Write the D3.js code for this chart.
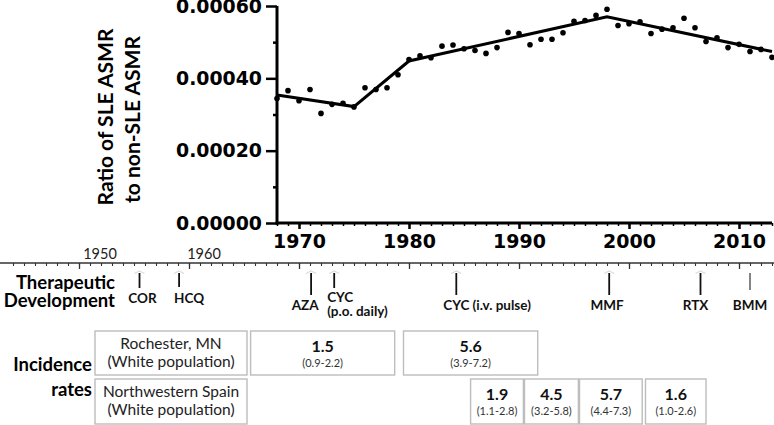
<!DOCTYPE html>
<html>
<head>
<meta charset="utf-8">
<script src="https://cdn.jsdelivr.net/npm/d3@7"></script>
<style>
  body { margin: 0; background: #fff; }
  svg { display: block; }
</style>
</head>
<body>
<script>
// ---------------- DATA ----------------
const years = [1968,1969,1970,1971,1972,1973,1974,1975,1976,1977,1978,1979,1980,1981,1982,1983,1984,1985,1986,1987,1988,1989,1990,1991,1992,1993,1994,1995,1996,1997,1998,1999,2000,2001,2002,2003,2004,2005,2006,2007,2008,2009,2010,2011,2012,2013];
const ratio = [0.000344,0.000366,0.000338,0.000369,0.000303,0.000328,0.000331,0.000321,0.000374,0.000369,0.000374,0.000410,0.000452,0.000462,0.000457,0.000489,0.000492,0.000482,0.000477,0.000469,0.000485,0.000527,0.000524,0.000493,0.000508,0.000508,0.000526,0.000558,0.000560,0.000574,0.000591,0.000546,0.000551,0.000556,0.000524,0.000536,0.000540,0.000566,0.000540,0.000502,0.000512,0.000485,0.000494,0.000474,0.000480,0.000458];
const trendYears = [1968, 1975, 1980, 1998, 2013];
const trendValues = [0.000354, 0.000322, 0.000448, 0.000570, 0.000474];
const yTicks = [0, 0.0002, 0.0004, 0.0006];
const yMinorTicks = [0.0001, 0.0003, 0.0005];
const xTicks = [1970, 1980, 1990, 2000, 2010];
const timelineLabels = [1950, 1960];

const drugs = ["COR", "HCQ", "AZA", "CYC", "CYC (i.v. pulse)", "MMF", "RTX", "BMM"];
const drugSub = ["", "", "", "(p.o. daily)", "", "", "", ""];
const drugYears = [1955.5, 1959.1, 1971.1, 1973.2, 1984.3, 1998.2, 2006.5, 2011.0];

const populations = ["Rochester, MN", "Northwestern Spain"];
const populationSub = ["(White population)", "(White population)"];

const rochesterRates = ["1.5", "5.6"];
const rochesterCI = ["(0.9-2.2)", "(3.9-7.2)"];
const rochesterStart = [1965.6, 1979.5];
const rochesterEnd = [1978.7, 1991.7];

const spainRates = ["1.9", "4.5", "5.7", "1.6"];
const spainCI = ["(1.1-2.8)", "(3.2-5.8)", "(4.4-7.3)", "(1.0-2.6)"];
const spainStart = [1985.6, 1990.5, 1995.5, 2001.5];
const spainEnd = [1990.4, 1995.4, 2001.2, 2007.0];

// ---------------- LAYOUT ----------------
const W = 774, H = 425;
const svg = d3.select("body").append("svg").attr("width", W).attr("height", H);

const x = d3.scaleLinear().domain([1968, 2013]).range([277, 772]);
const y = d3.scaleLinear().domain([0, 0.0006]).range([223, 6]);

const boldNum = "'DejaVu Sans', sans-serif";
const humanist = "Lato, 'Open Sans', sans-serif";

// Y axis (minor)
svg.append("g").attr("transform", `translate(${x(1968)},0)`)
  .call(d3.axisLeft(y).tickValues(yMinorTicks).tickSize(4).tickFormat(""))
  .call(g => g.select(".domain").remove())
  .call(g => g.selectAll("line").attr("stroke-width", 2.5));
// Y axis (major)
svg.append("g").attr("transform", `translate(${x(1968)},0)`)
  .call(d3.axisLeft(y).tickValues(yTicks).tickSize(11).tickPadding(4).tickFormat(d3.format(".5f")))
  .call(g => g.select(".domain").attr("stroke-width", 3).attr("d", `M0,${y(0.0006)}V${y(0)+1.5}`))
  .call(g => g.selectAll("line").attr("stroke-width", 2.5))
  .call(g => g.selectAll("text").attr("font-family", boldNum).attr("font-weight", "bold")
      .attr("font-size", 19).attr("fill", "#000").attr("textLength", 86).attr("lengthAdjust", "spacingAndGlyphs"));

// X axis (minor)
svg.append("g").attr("transform", `translate(0,${y(0)})`)
  .call(d3.axisBottom(x).tickValues(years).tickSize(3).tickFormat(""))
  .call(g => g.select(".domain").remove())
  .call(g => g.selectAll("line").attr("stroke-width", 1.5));
// X axis (major)
svg.append("g").attr("transform", `translate(0,${y(0)})`)
  .call(d3.axisBottom(x).tickValues(xTicks).tickSize(6).tickPadding(5.5).tickFormat(d3.format("d")))
  .call(g => g.select(".domain").attr("stroke-width", 3).attr("d", `M${x(1968)-1.5},0H${x(2013)}`))
  .call(g => g.selectAll("line").attr("stroke-width", 2.5))
  .call(g => g.selectAll("text").attr("font-family", boldNum).attr("font-weight", "bold")
      .attr("font-size", 19).attr("fill", "#000"));

// Y title
const yTitle = svg.append("g").attr("font-family", humanist).attr("font-weight", "bold")
  .attr("font-size", 21).attr("fill", "#000").attr("text-anchor", "middle");
yTitle.append("text").attr("transform", "translate(113,117) rotate(-90)").text("Ratio of SLE ASMR");
yTitle.append("text").attr("transform", "translate(140,119.5) rotate(-90)").text("to non-SLE ASMR");

// Trend line
const trend = trendYears.map((d, i) => [d, trendValues[i]]);
svg.append("path").datum(trend)
  .attr("d", d3.line().x(d => x(d[0])).y(d => y(d[1])))
  .attr("fill", "none").attr("stroke", "#000").attr("stroke-width", 3).attr("stroke-linejoin", "miter");

// Points
svg.append("g").selectAll("circle").data(years.map((d, i) => [d, ratio[i]])).join("circle")
  .attr("cx", d => x(d[0])).attr("cy", d => y(d[1])).attr("r", 2.8).attr("fill", "#000");

// ---------------- TIMELINE ----------------
const tlY = 263;
svg.append("line").attr("x1", 0).attr("x2", W).attr("y1", tlY).attr("y2", tlY)
  .attr("stroke", "#333").attr("stroke-width", 1.3);
const tlYears = d3.range(1944, 2014);
svg.append("g").attr("transform", `translate(0,${tlY})`)
  .call(d3.axisBottom(x).tickValues(tlYears).tickSize(3).tickFormat(""))
  .call(g => g.select(".domain").remove())
  .call(g => g.selectAll("line").attr("stroke", "#333").attr("stroke-width", 1.1));
svg.append("g").attr("transform", `translate(0,${tlY})`)
  .call(d3.axisBottom(x).tickValues(timelineLabels.concat(xTicks)).tickSize(6).tickFormat(""))
  .call(g => g.select(".domain").remove())
  .call(g => g.selectAll("line").attr("stroke", "#333").attr("stroke-width", 1.3));
svg.append("g").selectAll("text").data(timelineLabels).join("text")
  .attr("x", d => x(d) + (d === 1950 ? 21 : 15)).attr("y", 259)
  .attr("text-anchor", "middle").attr("font-family", humanist).attr("font-size", 14.5).attr("fill", "#222")
  .text(d => d);

// Row labels
const rowLab = svg.append("g").attr("font-family", humanist).attr("font-weight", "bold")
  .attr("font-size", 18.5).attr("fill", "#000").attr("text-anchor", "end");
rowLab.append("text").attr("x", 115).attr("y", 289).text("Therapeutic");
rowLab.append("text").attr("x", 115).attr("y", 307).text("Development");
rowLab.append("text").attr("x", 92).attr("y", 371).text("Incidence");
rowLab.append("text").attr("x", 92).attr("y", 396).text("rates");

// Drug markers (label offset, anchor, line bottom, label baseline)
const nudge = {
  "COR": [3, "middle", 288, 303], "HCQ": [10, "middle", 287, 303], "AZA": [-6, "middle", 295, 310],
  "CYC": [-7, "start", 288, 302], "CYC (i.v. pulse)": [-13, "start", 295, 310],
  "MMF": [-2, "middle", 295, 310], "RTX": [-5, "middle", 295, 310], "BMM": [0, "middle", 290, 310] };
const drugG = svg.append("g");
drugs.forEach((name, i) => {
  const cx = x(drugYears[i]);
  const isLast = name === "BMM";
  const [dx, anchor, lineEnd, base] = nudge[name];
  if (!isLast) {
    drugG.append("path").attr("d", `M${cx-5},${273.5}L${cx},${271}L${cx+5},${273.5}`)
      .attr("fill", "none").attr("stroke", "#dcdcdc").attr("stroke-width", 1.3);
  }
  drugG.append("line").attr("x1", cx).attr("x2", cx).attr("y1", 273).attr("y2", lineEnd)
    .attr("stroke", isLast ? "#777" : "#111").attr("stroke-width", 1.8);
  drugG.append("text").attr("x", cx + dx).attr("y", base).attr("text-anchor", anchor)
    .attr("font-family", humanist).attr("font-weight", "bold").attr("font-size", 13.5).attr("fill", "#111")
    .text(name);
  if (drugSub[i]) {
    drugG.append("text").attr("x", cx + dx).attr("y", 316).attr("text-anchor", anchor)
      .attr("font-family", humanist).attr("font-weight", "bold").attr("font-size", 13.5).attr("fill", "#111")
      .text(drugSub[i]);
  }
});

// ---------------- INCIDENCE BOXES ----------------
const boxStroke = "#bdbdbd";
const rows = [{ top: 331, bot: 375 }, { top: 379, bot: 424 }];
populations.forEach((p, i) => {
  const r = rows[i];
  svg.append("rect").attr("x", 95).attr("y", r.top).attr("width", 152).attr("height", r.bot - r.top)
    .attr("fill", "#fff").attr("stroke", boxStroke).attr("stroke-width", 1.4);
  svg.append("text").attr("x", 171).attr("y", r.top + 18).attr("text-anchor", "middle")
    .attr("font-family", humanist).attr("font-size", 15.5).attr("fill", "#222").text(p);
  svg.append("text").attr("x", 171).attr("y", r.top + 36).attr("text-anchor", "middle")
    .attr("font-family", humanist).attr("font-size", 15.5).attr("fill", "#222").text(populationSub[i]);
});

function rateBoxes(rates, cis, starts, ends, r) {
  const g = svg.append("g");
  rates.forEach((rate, i) => {
    const x0 = x(starts[i]), x1 = x(ends[i]);
    g.append("rect").attr("x", x0).attr("y", r.top).attr("width", x1 - x0).attr("height", r.bot - r.top)
      .attr("fill", "#fff").attr("stroke", boxStroke).attr("stroke-width", 1.4);
    g.append("text").attr("x", (x0 + x1) / 2).attr("y", r.top + 21).attr("text-anchor", "middle")
      .attr("font-family", humanist).attr("font-weight", "bold").attr("font-size", 16).attr("fill", "#111").text(rate);
    g.append("text").attr("x", (x0 + x1) / 2).attr("y", r.top + 36).attr("text-anchor", "middle")
      .attr("font-family", humanist).attr("font-size", 11).attr("fill", "#333").text(cis[i]);
  });
}
rateBoxes(rochesterRates, rochesterCI, rochesterStart, rochesterEnd, rows[0]);
rateBoxes(spainRates, spainCI, spainStart, spainEnd, rows[1]);
</script>
</body>
</html>
